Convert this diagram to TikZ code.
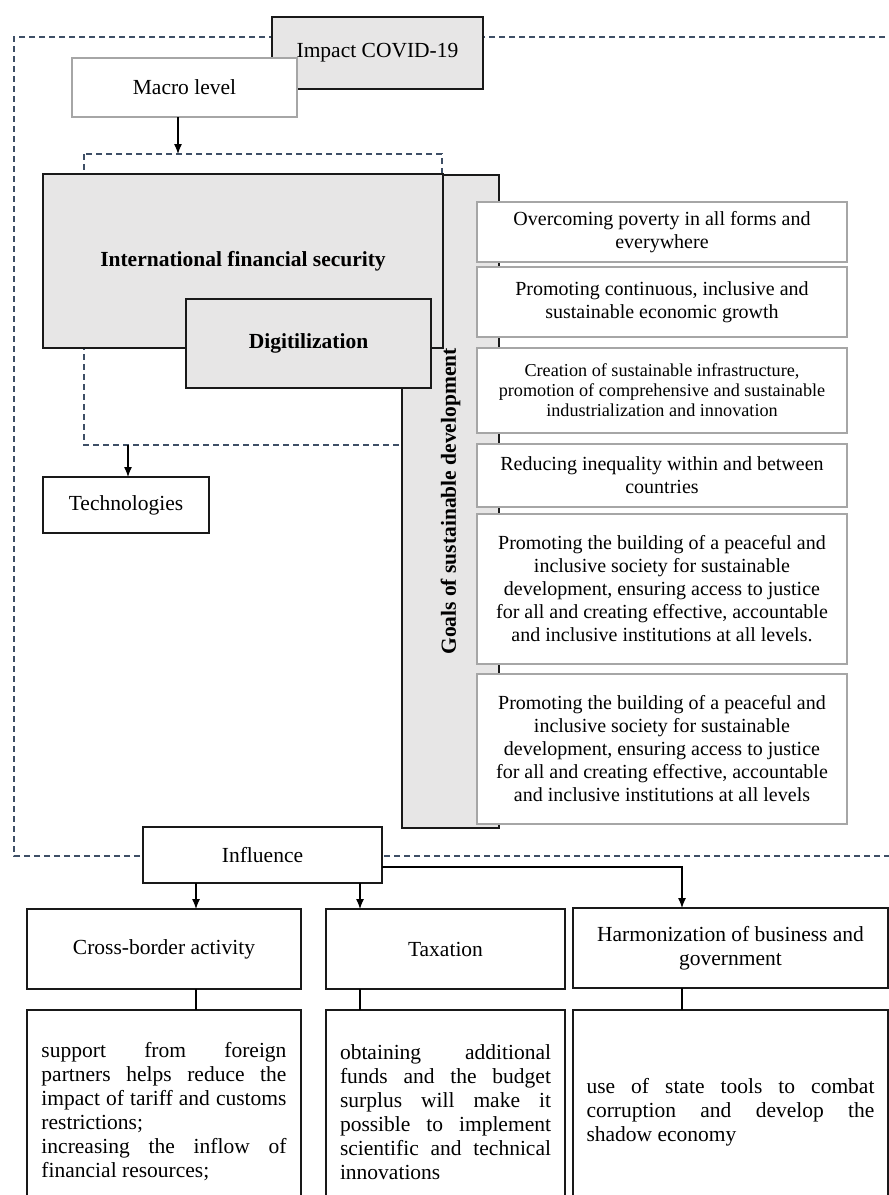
\documentclass[tikz,border=0pt]{standalone}
\usepackage{fontspec}
\setmainfont{Liberation Serif}
\usetikzlibrary{positioning,arrows.meta}
\definecolor{boxgray}{HTML}{E7E6E6}
\definecolor{framecol}{HTML}{3E4F66}
\definecolor{itemline}{HTML}{A6A6A6}
\tikzset{
  box/.style={draw=black!90, line width=1.2pt, inner sep=0pt, outer sep=0pt, align=center,
    font=\fontsize{21.5}{24.5}\selectfont},
  graybox/.style={box, fill=boxgray},
  whitebox/.style={box, fill=white},
  goalitem/.style={box, fill=white, draw=itemline, line width=1.3pt, minimum width=370pt,
    font=\fontsize{20}{23}\selectfont},
  infobox/.style={box, fill=white, minimum height=204pt, align=justify,
    font=\fontsize{21.5}{24}\selectfont},
  frame/.style={draw=framecol, dash pattern=on 6pt off 4pt, line width=1.2pt},
  link/.style={line width=1.2pt},
}
\begin{document}
\begin{tikzpicture}[>={Latex[length=10pt,width=8pt]}, x=1pt, y=-1pt]
\useasboundingbox (0,0) rectangle (889,1195);
\clip (0,0) rectangle (889,1195);

\draw[frame] (895,37) -- (14,37) -- (14,856) -- (895,856);
\draw[frame] (84,154) rectangle (442,445);

\node[graybox, minimum width=211pt, minimum height=72pt] (impact) at (377.5,53) {Impact COVID-19};
\node[whitebox, draw=itemline, minimum width=225pt, minimum height=59pt] (macro) at (184.5,87.5) {Macro level};

\node[graybox, rotate=90, minimum width=653pt, minimum height=97pt, font=\fontsize{21.5}{24}\selectfont\bfseries]
  (goals) at (450.5,501.5) {Goals of sustainable development};
\node[graybox, minimum width=400pt, minimum height=174pt, font=\fontsize{21.5}{24}\selectfont\bfseries]
  (ifs) at (243,261) {International financial security};
\node[graybox, minimum width=245pt, minimum height=89pt, font=\fontsize{21.5}{24}\selectfont\bfseries]
  (digit) at (308.5,343.5) {Digitilization};

\node[goalitem, minimum height=60pt] (g1) at (662,232) {Overcoming poverty in all forms and\\everywhere};
\node[goalitem, minimum height=70pt] (g2) at (662,302) {Promoting continuous, inclusive and\\sustainable economic growth};
\node[goalitem, minimum height=85pt, font=\fontsize{18.2}{20}\selectfont] (g3) at (662,390.5)
  {Creation of sustainable infrastructure,\\promotion of comprehensive and sustainable\\industrialization and innovation};
\node[goalitem, minimum height=63pt] (g4) at (662,475.5) {Reducing inequality within and between\\countries};
\node[goalitem, minimum height=150pt] (g5) at (662,589)
  {Promoting the building of a peaceful and\\inclusive society for sustainable\\development, ensuring access to justice\\for all and creating effective, accountable\\and inclusive institutions at all levels.};
\node[goalitem, minimum height=150pt] (g6) at (662,749)
  {Promoting the building of a peaceful and\\inclusive society for sustainable\\development, ensuring access to justice\\for all and creating effective, accountable\\and inclusive institutions at all levels};

\node[whitebox, minimum width=166pt, minimum height=56pt] (tech) at (126,505) {Technologies};

\node[whitebox, minimum width=239pt, minimum height=56pt] (influence) at (262.5,855) {Influence};
\node[whitebox, minimum width=274pt, minimum height=80pt] (cross) at (164,949) {Cross-border activity};
\node[whitebox, minimum width=239pt, minimum height=80pt] (tax) at (445.5,949) {Taxation};
\node[whitebox, minimum width=315pt, minimum height=80pt] (harm) at (730.5,948) {Harmonization of business and\\government};

\node[infobox, minimum width=274pt, text width=245pt] (crossinfo) at (164,1112)
  {support from foreign\linebreak partners helps reduce the\linebreak impact of tariff and customs\linebreak restrictions;\newline increasing the inflow of\linebreak financial resources;};
\node[infobox, minimum width=239pt, text width=211pt] (taxinfo) at (445.5,1112)
  {obtaining additional\linebreak funds and the budget\linebreak surplus will make it\linebreak possible to implement\linebreak scientific and technical\linebreak innovations};
\node[infobox, minimum width=315pt, text width=288pt] (harminfo) at (730.5,1112)
  {use of state tools to combat\linebreak corruption and develop the\linebreak shadow economy};

\coordinate (macroX) at (178,154);
\coordinate (techX) at (128,445);
\coordinate (colA) at (196,0);
\coordinate (colB) at (360,0);
\coordinate (colC) at (682,0);

\draw[->, link] (macro.south -| macroX) -- (macroX);
\draw[->, link] (techX) -- (tech.north -| techX);
\draw[->, link] (influence.south -| colA) -- (cross.north -| colA);
\draw[->, link] (influence.south -| colB) -- (tax.north -| colB);
\draw[->, link] ([yshift=-12pt]influence.east) -| (harm.north -| colC);
\draw[link] (cross.south -| colA) -- (crossinfo.north -| colA);
\draw[link] (tax.south -| colB) -- (taxinfo.north -| colB);
\draw[link] (harm.south -| colC) -- (harminfo.north -| colC);
\end{tikzpicture}
\end{document}
